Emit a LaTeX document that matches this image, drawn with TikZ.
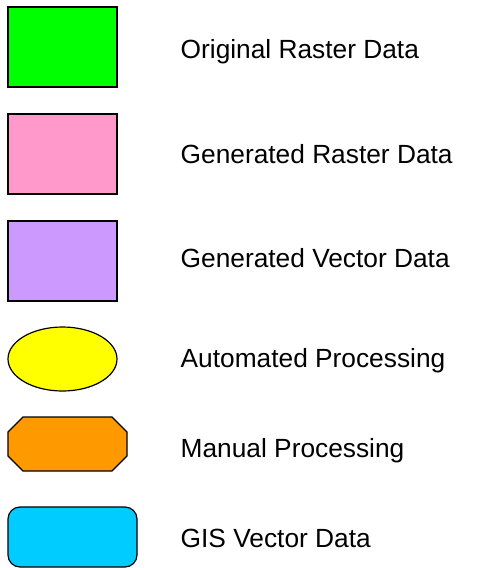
\documentclass[tikz,border=0pt]{standalone}
\usepackage{fontspec}
\setmainfont{Liberation Sans}
\usetikzlibrary{shapes.geometric}
\definecolor{rastergreen}{HTML}{00FF00}
\definecolor{rasterpink}{HTML}{FF99CC}
\definecolor{vectorlilac}{HTML}{CC99FF}
\definecolor{autoyellow}{HTML}{FFFF00}
\definecolor{manualorange}{HTML}{FF9900}
\definecolor{giscyan}{HTML}{00CCFF}
\tikzset{
	keybox/.style={draw=black, line width=1.2pt, inner sep=0pt, minimum width=109pt, minimum height=80pt},
	keytext/.style={anchor=base west, inner sep=0pt, font=\fontsize{26.3}{31}\selectfont}
}

\begin{document}
\begin{tikzpicture}[x=1pt, y=-1pt]
		%%%%% START %%%%%
		\useasboundingbox (0, 0) rectangle (481, 568);
		
		\node[keybox, fill=rastergreen] (origbox) at (62.5, 47) {};
		\node[keytext] (origtext) at (180.5, 58) {Original Raster Data};
		
		\node[keybox, fill=rasterpink] (genrasbox) at (62.5, 154) {};
		\node[keytext] (genrastext) at (180.5, 163) {Generated Raster Data};
		
		\node[keybox, fill=vectorlilac] (genvecbox) at (62.5, 261) {};
		\node[keytext] (genvectext) at (180.5, 267.5) {Generated Vector Data};
		
		\node[ellipse, draw=black, line width=1.2pt, fill=autoyellow, inner sep=0pt, minimum width=109pt, minimum height=64pt] (autoshape) at (62.5, 359) {};
		\node[keytext] (autotext) at (180.5, 367.5) {Automated Processing};
		
		\draw[line width=1.2pt, fill=manualorange] (23, 417) -- (112, 417) -- (127, 432) -- (127, 456) -- (112, 471) -- (23, 471) -- (8, 456) -- (8, 432) -- cycle;
		\node[keytext] (manualtext) at (180.5, 457.5) {Manual Processing};
		
		\node[draw=black, line width=1.2pt, fill=giscyan, rounded corners=12pt, inner sep=0pt, minimum width=129pt, minimum height=60pt] (gisbox) at (72.5, 537) {};
		\node[keytext] (gistext) at (180.5, 547) {GIS Vector Data};
		
		%%%%% END %%%%%
	\end{tikzpicture}
\end{document}
